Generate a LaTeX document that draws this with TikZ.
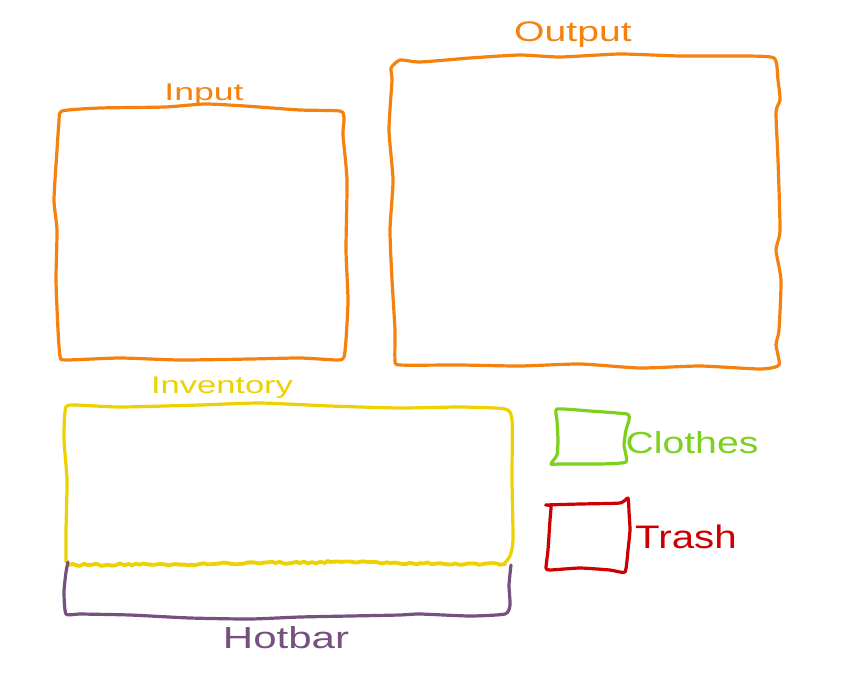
\documentclass[tikz,border=0pt]{standalone}
\usepackage{fontspec}
\setmainfont{Liberation Sans}
\usetikzlibrary{decorations.pathmorphing}
\definecolor{penorange}{HTML}{F5820F}
\definecolor{penyellow}{HTML}{EDD100}
\definecolor{penpurple}{HTML}{76507E}
\definecolor{pengreen}{HTML}{7BD11C}
\definecolor{penred}{HTML}{CC0000}
\tikzset{
  pen/.style={line width=3.2pt, line cap=round, line join=round},
  scribble/.style={inner sep=0pt, anchor=center},
}
\begin{document}
\begin{tikzpicture}[x=1pt,y=-1pt]
\useasboundingbox[fill=white] (0,0) rectangle (846,686);

% Input frame
\draw[pen, penorange] plot[smooth cycle, tension=0.35] coordinates {
  (62,111) (100,108) (165,107) (205,104) (245,106) (300,110) (340,111)
  (344,118) (343,135) (347,180) (346,250) (348,300) (346,340) (344,357)
  (338,360) (300,358) (250,359) (180,360) (120,358) (65,360) (60,356)
  (58,330) (56,280) (57,230) (54,200) (57,150) (59,122)};
\node[scribble, text=penorange, font=\fontsize{23}{23}\selectfont] (inputlbl) at (204,95) {\scalebox{1.55}[1.05]{Input}};

% Output frame
\draw[pen, penorange] plot[smooth cycle, tension=0.35] coordinates {
  (400,60) (420,62) (470,58) (520,55) (560,57) (620,54) (680,56) (740,56) (774,58)
  (778,80) (780,100) (776,112) (778,160) (780,230) (776,250) (781,280) (779,330) (776,345) (779,365)
  (760,369) (700,366) (640,368) (580,364) (520,366) (460,365) (400,365) (395,360)
  (395,330) (392,280) (390,230) (393,180) (389,130) (392,80) (391,68)};
\node[scribble, text=penorange, font=\fontsize{27}{27}\selectfont] (outputlbl) at (573,35) {\scalebox{1.45}[1.05]{Output}};

% Inventory frame
\draw[pen, penyellow] plot[smooth, tension=0.35] coordinates {
  (66,562) (66,530) (67,480) (64,440) (65,412) (70,405) (120,407) (200,405) (260,403)
  (330,406) (400,408) (460,407) (505,409) (512,420) (512,480) (513,540) (510,556) (504,564)};
\draw[line width=3.8pt, line cap=round, line join=round, penyellow, decorate,
      decoration={random steps, segment length=4pt, amplitude=1.2pt}]
  (68,565) -- (200,564) -- (330,562) -- (420,563) -- (505,564);
\node[scribble, text=penyellow, font=\fontsize{23}{23}\selectfont] (inventorylbl) at (222,388) {\scalebox{1.5}[1.05]{Inventory}};

% Hotbar frame
\draw[pen, penpurple] plot[smooth, tension=0.35] coordinates {
  (68,562) (66,572) (64,592) (66,614) (80,614) (130,615) (190,618) (250,619) (300,617)
  (350,616) (400,615) (420,614) (470,616) (505,614) (510,605) (509,585) (511,565)};
\node[scribble, text=penpurple, font=\fontsize{29}{29}\selectfont] (hotbarlbl) at (286,638) {\scalebox{1.45}[1.05]{Hotbar}};

% Clothes slot
\draw[pen, pengreen] plot[smooth cycle, tension=0.3] coordinates {
  (557,409) (590,411) (627,414) (629,420) (626,430) (624,445) (626,462)
  (600,464) (560,464) (551,464) (557,455) (558,440) (557,420)};
\node[scribble, text=pengreen, font=\fontsize{29}{29}\selectfont] (clotheslbl) at (692,443) {\scalebox{1.35}[1.05]{Clothes}};

% Trash slot
\draw[pen, penred] plot[smooth cycle, tension=0.3] coordinates {
  (546,505) (580,504) (620,503) (628,498) (629,512) (630,530) (628,550) (625,572)
  (610,570) (580,568) (550,570) (546,568) (548,550) (550,520) (551,506)};
\node[scribble, text=penred, font=\fontsize{31}{31}\selectfont] (trashlbl) at (686,537) {\scalebox{1.3}[1.05]{Trash}};
\end{tikzpicture}
\end{document}
